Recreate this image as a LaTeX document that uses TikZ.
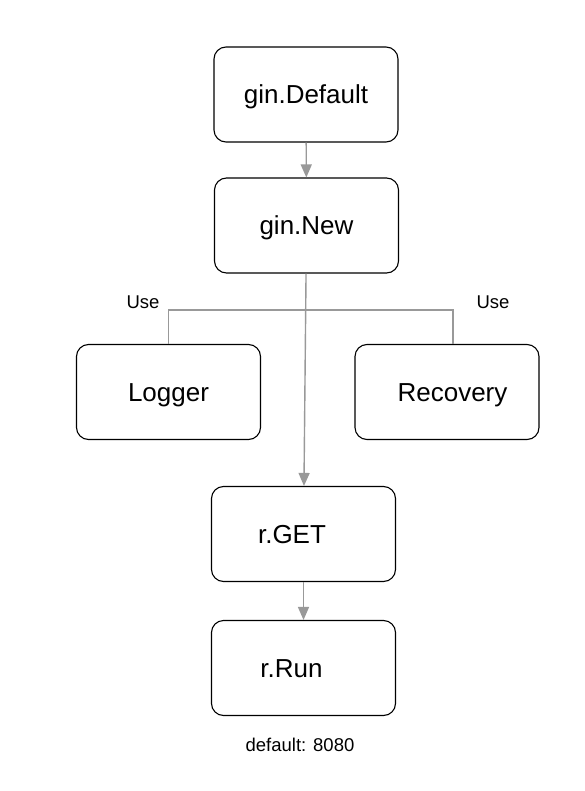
\documentclass[tikz,border=0pt]{standalone}
\usepackage{fontspec}
\setmainfont{Liberation Sans}
\usetikzlibrary{arrows.meta,positioning,calc}
\definecolor{linegray}{HTML}{999999}
\newcommand{\boxfont}{\fontsize{26}{30}\selectfont}
\newcommand{\notefont}{\fontsize{18.5}{22}\selectfont}

\begin{document}
\begin{tikzpicture}[x=1pt,y=-1pt,>={Triangle[length=13pt,width=11pt]}]
  \path[use as bounding box,fill=white] (0,0) rectangle (584,791);
  \tikzset{
    stepbox/.style={draw=black,fill=white,line width=1.1pt,rounded corners=12pt,align=center,font=\boxfont,minimum width=184pt,minimum height=95pt,inner sep=0pt,text height=19pt,text depth=0pt},
    flow/.style={draw=linegray,line width=1.4pt},
    note/.style={font=\notefont,inner sep=0pt}
  }
  \node[stepbox] (default) at (306,94.5) {gin.Default};
  \node[stepbox] (new) at (306.5,225.5) {gin.New};
  \node[stepbox] (logger) at (168.5,392) {Logger};
  \node[stepbox] (recovery) at (447,392) {\hspace*{11pt}Recovery};
  \node[stepbox] (get) at (303.5,534) {r.GET\hspace*{23pt}};
  \node[stepbox] (run) at (303.5,668) {r.Run\hspace*{24pt}};

  \node[note] (useleft) at (143,302) {Use};
  \node[note] (useright) at (493,302) {Use};
  \node[note] (port) at (300,745) {default: 8080};

  \coordinate (usebar) at (306,310);
  \draw[flow,->,linegray] (default) -- (new);
  \draw[flow,->,linegray] (new) -- (get);
  \draw[flow,->,linegray] (get) -- (run);
  \draw[flow] (logger.north) |- (usebar) -| ([xshift=6pt]recovery.north);
\end{tikzpicture}
\end{document}
